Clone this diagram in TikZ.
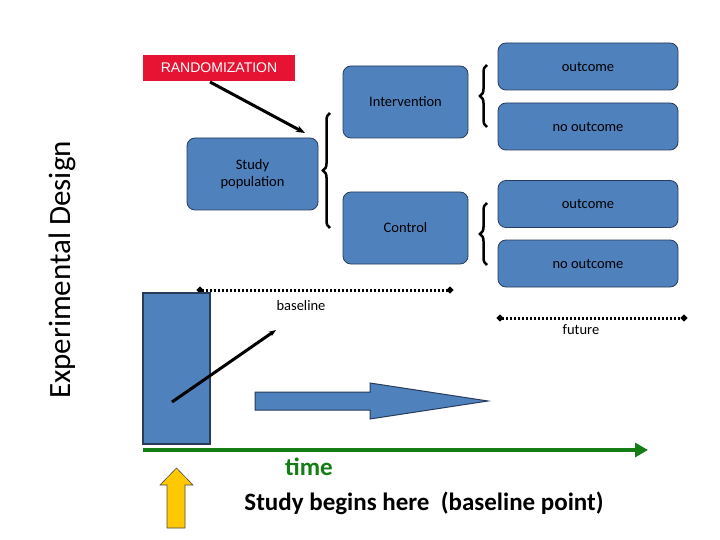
\documentclass[tikz,border=0pt]{standalone}
\usepackage{fontspec}
\setmainfont{Carlito}
\newfontfamily\arialf{Liberation Sans}
\usetikzlibrary{decorations.pathreplacing,arrows.meta}
\definecolor{boxblue}{RGB}{79,129,189}
\definecolor{boxedge}{RGB}{40,60,90}
\definecolor{tgreen}{RGB}{20,125,20}
\definecolor{ryel}{RGB}{255,200,0}
\definecolor{rred}{RGB}{230,20,50}
\tikzset{
 bx/.style={draw=boxedge,fill=boxblue,rounded corners=8pt,line width=0.8pt,font=\fontsize{14.5}{17}\selectfont,align=center,inner sep=0pt},
 brc/.style={decorate,decoration={brace,amplitude=7pt},line width=2.5pt},
 dots/.style={line width=3pt,dash pattern=on 2.5pt off 1.5pt,{Circle[length=6pt]}-{Circle[length=6pt]}},
 lbl/.style={font=\fontsize{14.5}{17}\selectfont}
}
\begin{document}
\begin{tikzpicture}[x=1pt,y=-1pt]
\useasboundingbox (0,0) rectangle (720,540);
\node[rotate=90,font=\fontsize{31}{34}\selectfont] (title) at (62,270) {Experimental Design};
\node[fill=rred,text=white,minimum width=152pt,minimum height=26pt,inner sep=0pt,font=\arialf\fontsize{14}{16}\selectfont] (rand) at (219,68) {RANDOMIZATION};
\node[bx,minimum width=131pt,minimum height=72pt] (pop) at (252.5,174) {Study\\population};
\node[bx,minimum width=125pt,minimum height=72pt] (int) at (405.5,102) {Intervention};
\node[bx,minimum width=125pt,minimum height=72pt] (ctl) at (405.5,228) {Control};
\node[bx,minimum width=180pt,minimum height=47pt] (o1) at (588,66.5) {outcome};
\node[bx,minimum width=180pt,minimum height=47pt] (n1) at (588,126.5) {no outcome};
\node[bx,minimum width=180pt,minimum height=47pt] (o2) at (588,204) {outcome};
\node[bx,minimum width=180pt,minimum height=47pt] (n2) at (588,263.5) {no outcome};
\coordinate (bt) at (305,133);
\draw[line width=3pt,-{Stealth[length=9pt]}] (210,82) -- (bt);
\draw[brc] (330,228) -- (330,113);
\draw[brc] (487,127) -- (487,65);
\draw[brc] (487,265) -- (487,203);
\coordinate (b1) at (197,290); \coordinate (b2) at (453,290);
\draw[dots] (b1) -- (b2);
\node[lbl] (bl) at (301,306) {baseline};
\coordinate (f1) at (497,318); \coordinate (f2) at (687,318);
\draw[dots] (f1) -- (f2);
\node[lbl] (fl) at (581,330) {future};
\node[draw=boxedge,fill=boxblue,line width=1.5pt,minimum width=67pt,minimum height=151pt,inner sep=0pt] (tall) at (176.5,368.5) {};
\coordinate (p1) at (172,402); \coordinate (p2) at (276,330);
\draw[line width=3pt,-{Stealth[length=7pt]}] (p1) -- (p2);
\draw[draw=boxedge,fill=boxblue,line width=1pt] (255,392) -- (370,392) -- (370,383) -- (488,401) -- (370,419) -- (370,410) -- (255,410) -- cycle;
\coordinate (g1) at (143,450); \coordinate (g2) at (648,450);
\draw[tgreen,line width=4pt,-{Triangle[length=13pt,width=14pt]}] (g1) -- (g2);
\node[text=tgreen,font=\fontsize{25}{28}\selectfont\bfseries] (time) at (309,467) {time};
\node[font=\fontsize{25}{28}\selectfont\bfseries] (sb) at (424,503) {Study begins here\ \ (baseline point)};
\draw[fill=ryel,draw=black!70,line width=0.6pt] (167,528) -- (167,485) -- (160,485) -- (176.5,468) -- (193,485) -- (185,485) -- (185,528) -- cycle;
\end{tikzpicture}
\end{document}
